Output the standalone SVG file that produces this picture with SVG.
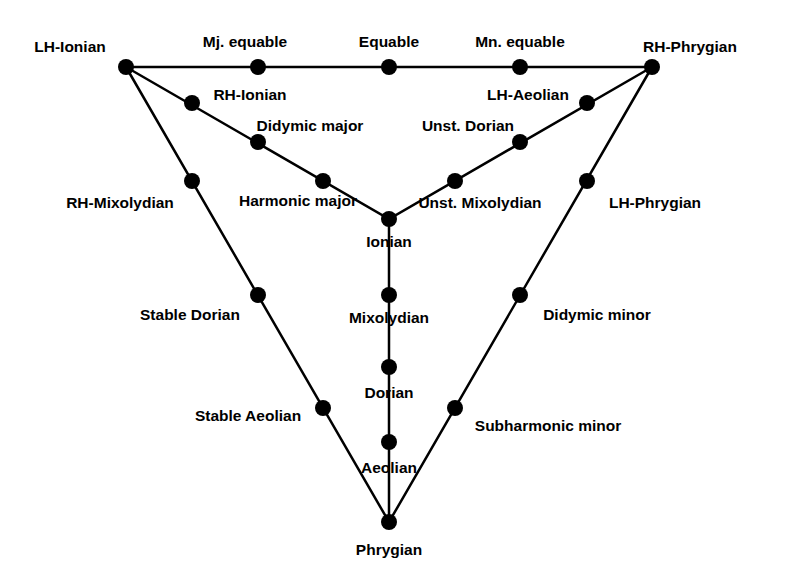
<svg xmlns="http://www.w3.org/2000/svg" width="800" height="578" viewBox="0 0 800 578">
<style>
.e{stroke:#000;stroke-width:2.5;fill:none}
.n{fill:#000}
text{font-family:"Liberation Sans","DejaVu Sans",sans-serif;font-weight:bold;font-size:15.5px;text-anchor:middle;fill:#000}
</style>
<rect width="800" height="578" fill="#fff"/>
<g id="connectors">
<path class="e" d="M126,67 L652,67"/>
<path class="e" d="M126,67 L389,219 L652,67"/>
<path class="e" d="M126,67 L389,522 L652,67"/>
<path class="e" d="M389,219 L389,522"/>
</g>
<g id="LH-Ionian"><circle class="n" cx="126" cy="67" r="8"/><text x="70" y="52">LH-Ionian</text></g>
<g id="Mj-equable"><circle class="n" cx="258" cy="67" r="8"/><text x="245" y="47">Mj. equable</text></g>
<g id="Equable"><circle class="n" cx="389" cy="67" r="8"/><text x="389" y="47">Equable</text></g>
<g id="Mn-equable"><circle class="n" cx="520" cy="67" r="8"/><text x="520" y="47">Mn. equable</text></g>
<g id="RH-Phrygian"><circle class="n" cx="652" cy="67" r="8"/><text x="690" y="52">RH-Phrygian</text></g>
<g id="RH-Ionian"><circle class="n" cx="192" cy="103" r="8"/><text x="250" y="100">RH-Ionian</text></g>
<g id="Didymic-major"><circle class="n" cx="258" cy="142" r="8"/><text x="310" y="131">Didymic major</text></g>
<g id="Harmonic-major"><circle class="n" cx="323" cy="181" r="8"/><text x="298" y="206">Harmonic major</text></g>
<g id="Ionian"><circle class="n" cx="389" cy="219" r="8"/><text x="389" y="247">Ionian</text></g>
<g id="LH-Aeolian"><circle class="n" cx="587" cy="103" r="8"/><text x="528" y="100">LH-Aeolian</text></g>
<g id="Unst-Dorian"><circle class="n" cx="520" cy="142" r="8"/><text x="468" y="131">Unst. Dorian</text></g>
<g id="Unst-Mixolydian"><circle class="n" cx="455" cy="181" r="8"/><text x="480" y="208">Unst. Mixolydian</text></g>
<g id="RH-Mixolydian"><circle class="n" cx="192" cy="181" r="8"/><text x="120" y="208">RH-Mixolydian</text></g>
<g id="LH-Phrygian"><circle class="n" cx="587" cy="181" r="8"/><text x="655" y="208">LH-Phrygian</text></g>
<g id="Stable-Dorian"><circle class="n" cx="258" cy="295" r="8"/><text x="190" y="320">Stable Dorian</text></g>
<g id="Didymic-minor"><circle class="n" cx="520" cy="295" r="8"/><text x="597" y="320">Didymic minor</text></g>
<g id="Mixolydian"><circle class="n" cx="389" cy="295" r="8"/><text x="389" y="323">Mixolydian</text></g>
<g id="Dorian"><circle class="n" cx="389" cy="367" r="8"/><text x="389" y="398">Dorian</text></g>
<g id="Stable-Aeolian"><circle class="n" cx="323" cy="408" r="8"/><text x="248" y="421">Stable Aeolian</text></g>
<g id="Subharmonic-minor"><circle class="n" cx="455" cy="408" r="8"/><text x="548" y="431">Subharmonic minor</text></g>
<g id="Aeolian"><circle class="n" cx="389" cy="442" r="8"/><text x="389" y="473">Aeolian</text></g>
<g id="Phrygian"><circle class="n" cx="389" cy="522" r="8"/><text x="389" y="555">Phrygian</text></g>
</svg>
